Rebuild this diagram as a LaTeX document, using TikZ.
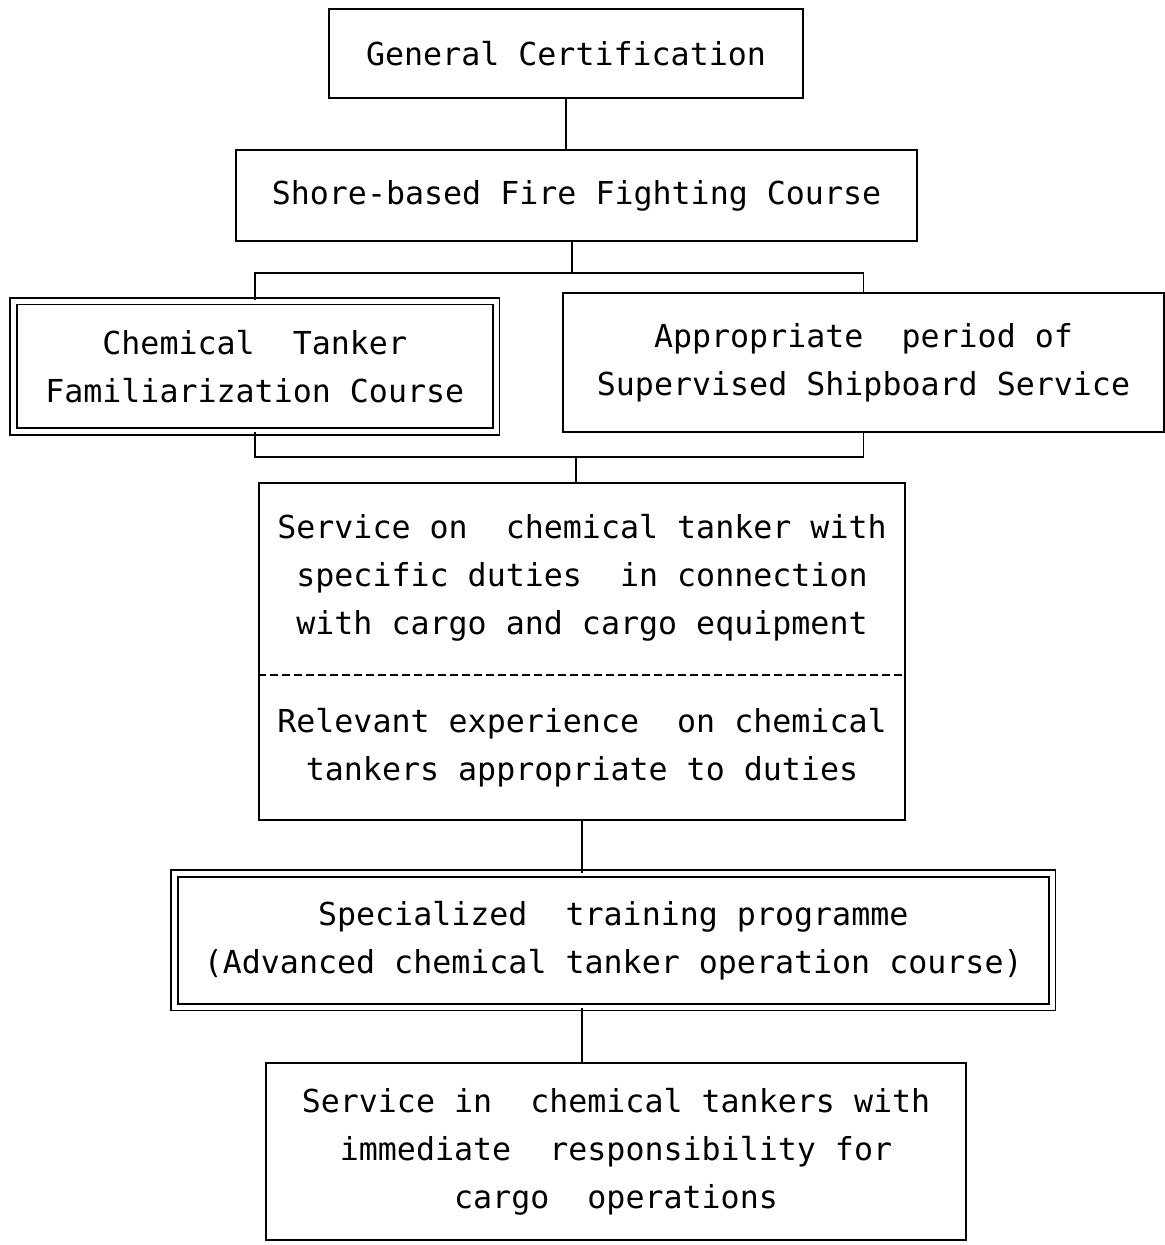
\documentclass[tikz,border=0pt]{standalone}
\usepackage{fontspec}
\setmonofont{DejaVu Sans Mono}
\usepackage{tikz}
\usetikzlibrary{positioning, calc}
\tikzstyle{txt} = [align=center, inner sep=0pt, font=\ttfamily\fontsize{18}{27.3}\selectfont]
\tikzstyle{box} = [txt, draw, line width=1pt]
\tikzstyle{dbox} = [box, double, double distance=0.1cm]
\tikzstyle{link} = [line width=1pt]

\begin{document}
\begin{tikzpicture}
                \useasboundingbox (0,0) rectangle (23.3,-24.9);

                % Entry
                \node[box, minimum width=9.48cm, minimum height=1.78cm] (gc) at (11.32,-1.07) {General Certification};
                \node[box, minimum width=13.62cm, minimum height=1.82cm] (shore) at (11.53,-3.91) {Shore-based Fire Fighting Course};

                % Two parallel routes
                \node[dbox, minimum width=9.65cm, minimum height=2.61cm] (chem) at (5.095,-7.325) {Chemical~ Tanker\\Familiarization Course};
                \node[box, minimum width=12.02cm, minimum height=2.78cm] (appr) at (17.27,-7.25) {Appropriate~ period of\\Supervised Shipboard Service};

                % Service on board
                \node[box, minimum width=12.92cm, minimum height=6.74cm] (service) at (11.64,-13.03) {};
                \node[txt] (duties) at (11.64,-11.56) {Service on~ chemical tanker with\\specific duties~ in connection\\with cargo and cargo equipment};
                \node[txt] (experience) at (11.64,-14.96) {Relevant experience~ on chemical\\tankers appropriate to duties};
                \coordinate (sep) at (11.64,-13.5);
                \draw[line width=0.8pt, dash pattern=on 0.16cm off 0.08cm] (service.west |- sep) -- (service.east |- sep);

                % Training and final service
                \node[dbox, minimum width=17.55cm, minimum height=2.67cm] (spec) at (12.265,-18.805) {Specialized~ training programme\\(Advanced chemical tanker operation course)};
                \node[box, minimum width=14cm, minimum height=3.54cm] (final) at (12.32,-23.03) {Service in~ chemical tankers with\\immediate~ responsibility for\\cargo~ operations};

                % Connections
                \coordinate (split) at (11.44,-5.46);
                \coordinate (merge) at (11.52,-9.14);
                \draw[link] (gc.south) -- (gc.south |- shore.north);
                \draw[link] (split |- shore.south) -- (split);
                \draw[link] (chem.north) |- (split) -| (appr.north);
                \draw[link] (chem.south) |- (merge) -| (appr.south);
                \draw[link] (merge) -- (merge |- service.north);
                \draw[link] (service.south) -- (service.south |- spec.north);
                \draw[link] (service.south |- spec.south) -- (service.south |- final.north);
            \end{tikzpicture}
\end{document}
